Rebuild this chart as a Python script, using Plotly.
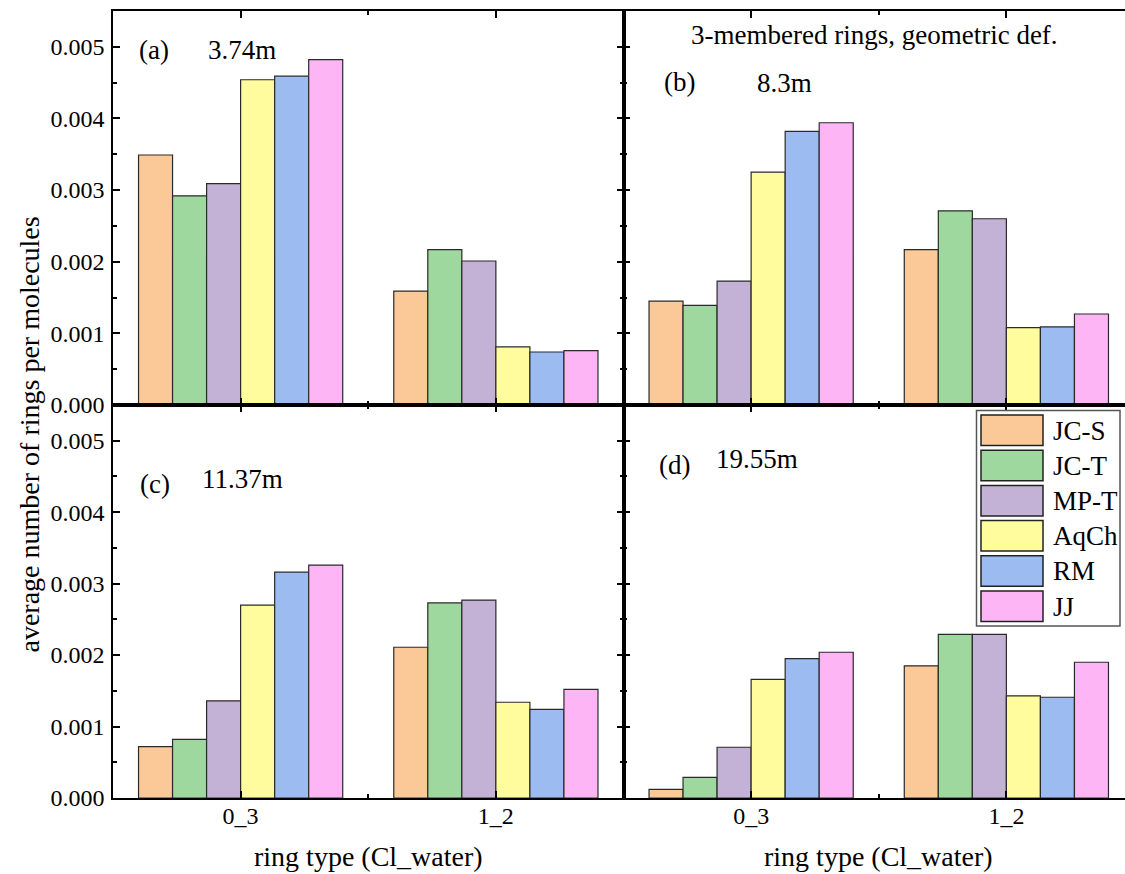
import plotly.graph_objects as go

W, H = 1125, 874


def px(x):
    return x / W


def py(y):
    return 1 - y / H


categories = ["0_3", "1_2"]
series = ["JC-S", "JC-T", "MP-T", "AqCh", "RM", "JJ"]
colors = ["#FBC897", "#9FD89F", "#C3B2D6", "#FFFC9E", "#9BBBF1", "#FDB5F5"]

# values per panel, per ring type, in series order
a_0_3 = [0.00349, 0.00292, 0.00309, 0.00454, 0.00459, 0.00482]
a_1_2 = [0.00159, 0.00217, 0.00201, 0.00081, 0.00074, 0.00076]
b_0_3 = [0.00145, 0.00139, 0.00173, 0.00325, 0.00382, 0.00394]
b_1_2 = [0.00217, 0.00271, 0.00260, 0.00108, 0.00109, 0.00127]
c_0_3 = [0.00072, 0.00082, 0.00136, 0.00270, 0.00316, 0.00326]
c_1_2 = [0.00211, 0.00273, 0.00277, 0.00134, 0.00124, 0.00152]
d_0_3 = [0.00012, 0.00029, 0.00071, 0.00166, 0.00195, 0.00204]
d_1_2 = [0.00185, 0.00229, 0.00229, 0.00143, 0.00141, 0.00190]

panel_labels = ["(a)", "(b)", "(c)", "(d)"]
panel_times = ["3.74m", "8.3m", "11.37m", "19.55m"]
y_tick_values = [0.000, 0.001, 0.002, 0.003, 0.004, 0.005]
title_text = "3-membered rings, geometric def."
x_title = "ring type (Cl_water)"
y_title = "average number of rings per molecules"

FONT = "Liberation Serif"

panels = [(a_0_3, a_1_2), (b_0_3, b_1_2), (c_0_3, c_1_2), (d_0_3, d_1_2)]

fig = go.Figure()
for p, (v03, v12) in enumerate(panels):
    ax = "" if p == 0 else str(p + 1)
    for i, name in enumerate(series):
        fig.add_trace(go.Bar(
            x=[0, 1], y=[v03[i], v12[i]], name=name,
            marker=dict(color=colors[i], line=dict(color="#2a2a2a", width=1.2)),
            xaxis="x" + ax, yaxis="y" + ax, showlegend=False,
        ))

# layout geometry (pixels)
xl0, xmid, xr1 = 113, 623.5, W
yt0, ymid, yb1 = 11, 405, 798
unit = (xmid - xl0) / 2.0
right_max = -0.5 + (xr1 - xmid) / unit

tickfont = dict(family=FONT, size=24, color="black")
common = dict(showline=True, linecolor="black", linewidth=1.6, ticks="inside",
              ticklen=7, tickwidth=1.5, tickcolor="black", mirror="ticks",
              showgrid=False, zeroline=False, tickfont=tickfont, automargin=False)

xdoms = [[px(xl0), px(xmid)], [px(xmid), 1.0], [px(xl0), px(xmid)], [px(xmid), 1.0]]
ydoms = [[py(ymid), py(yt0)], [py(ymid), py(yt0)], [py(yb1), py(ymid)], [py(yb1), py(ymid)]]

layout = dict(
    width=W, height=H, margin=dict(l=0, r=0, t=0, b=0, autoexpand=False),
    paper_bgcolor="white", plot_bgcolor="white",
    barmode="group", bargap=0.2, bargroupgap=0.0,
    font=dict(family=FONT, color="black"),
)
for p in range(4):
    ax = "" if p == 0 else str(p + 1)
    xr = [-0.5, 1.5] if p in (0, 2) else [-0.5, right_max]
    layout["xaxis" + ax] = dict(
        common, domain=xdoms[p], anchor="y" + ax, range=xr,
        tickmode="array", tickvals=[0, 1], ticktext=categories,
        showticklabels=p >= 2, ticklabelstandoff=-5,
        minor=dict(tickmode="array", tickvals=[0.5], ticks="inside", ticklen=4,
                   tickwidth=1.5, tickcolor="black"),
    )
    layout["yaxis" + ax] = dict(
        common, domain=ydoms[p], anchor="x" + ax, range=[0, 0.0055],
        tickmode="array", tickvals=y_tick_values, tickformat=".3f",
        showticklabels=p in (0, 2), ticklabelstandoff=2,
        mirror="ticks" if p in (0, 2) else False,
        minor=dict(tick0=0, dtick=0.0005, ticks="inside", ticklen=4,
                   tickwidth=1.5, tickcolor="black"),
    )
fig.update_layout(**layout)

annotations = []


def add_text(text, x, y, size=27, xanchor="center", angle=0):
    annotations.append(dict(
        text=text, x=px(x), y=py(y), xref="paper", yref="paper",
        xanchor=xanchor, yanchor="middle", showarrow=False, textangle=angle,
        font=dict(family=FONT, size=size, color="black"),
    ))


label_pos = [(153.5, 49.5), (679, 81.5), (155, 483.5), (674, 464.5)]
time_pos = [(242, 49.5), (784.5, 82.5), (242.5, 478.5), (756.5, 458.5)]
for p in range(4):
    add_text(panel_labels[p], *label_pos[p])
    add_text(panel_times[p], *time_pos[p])
add_text(title_text, 874, 35.5)
add_text(x_title, 368.5, 856.5, size=28)
add_text(x_title, 878.5, 856.5, size=28)
add_text(y_title, 29, 434.5, size=28, angle=-90)

# legend drawn as a box with swatches
shapes = []
lg_left, lg_right, lg_top, lg_bottom = 976.5, 1120, 410.5, 626
shapes.append(dict(type="rect", xref="paper", yref="paper", layer="above",
                   x0=px(lg_left), x1=px(lg_right), y0=py(lg_bottom), y1=py(lg_top),
                   line=dict(color="#555555", width=1.5), fillcolor="white"))
for i, name in enumerate(series):
    top = 415 + i * 35.2
    shapes.append(dict(type="rect", xref="paper", yref="paper", layer="above",
                       x0=px(981), x1=px(1043), y0=py(top + 30.5), y1=py(top),
                       line=dict(color="#222222", width=1.5), fillcolor=colors[i]))
    add_text(name, 1051, top + 15.5, size=27, xanchor="left")

fig.update_layout(annotations=annotations, shapes=shapes)
fig.write_html("out.html")
